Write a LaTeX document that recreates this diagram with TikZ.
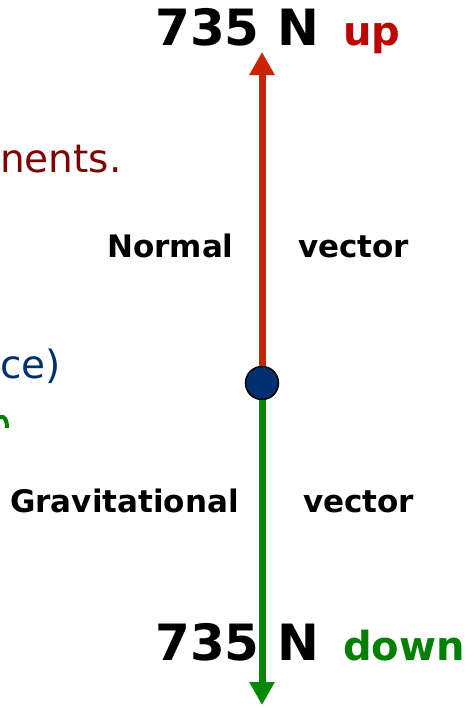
\documentclass[tikz,border=0pt]{standalone}
\usepackage{fontspec}
\setmainfont{DejaVu Sans}
\usetikzlibrary{arrows.meta}
\definecolor{arrred}{RGB}{204,34,0}
\definecolor{arrgreen}{RGB}{0,136,0}
\definecolor{upred}{RGB}{192,0,0}
\definecolor{downgreen}{RGB}{0,128,0}
\definecolor{dotblue}{RGB}{0,48,112}
\definecolor{darkred}{RGB}{128,0,0}
\tikzset{
  big/.style={font=\fontsize{50}{54}\selectfont\bfseries, inner sep=0pt},
  word/.style={font=\fontsize{40}{44}\selectfont\bfseries, inner sep=0pt},
  lbl/.style={font=\fontsize{31}{34}\selectfont\bfseries, inner sep=0pt},
  side/.style={font=\fontsize{39}{42}\selectfont, inner sep=0pt},
  vec/.style={line width=7pt, -{Triangle[width=24pt,length=23pt]}}
}
\begin{document}
\begin{tikzpicture}[x=1pt,y=-1pt]
\useasboundingbox (0,0) rectangle (471,707);
\coordinate (topend) at (262,52);
\coordinate (botend) at (262,705);
\node[circle, fill=dotblue, draw=black, line width=1.5pt, minimum size=33pt, inner sep=0pt] (dot) at (262,383) {};
\draw[vec, arrred] (dot.north) -- (topend);
\draw[vec, arrgreen] (dot.south) -- (botend);
\node[big, anchor=base west] (topn) at (155,45) {735 N};
\node[word, anchor=base west, text=upred] (up) at (343,45) {up};
\node[big, anchor=base west] (botn) at (155,660) {735 N};
\node[word, anchor=base west, text=downgreen] (down) at (343,660) {down};
\node[lbl, anchor=base west] (normal) at (107,257) {Normal};
\node[lbl, anchor=base west] (v1) at (298,257) {vector};
\node[lbl, anchor=base west] (grav) at (10,512) {Gravitational};
\node[lbl, anchor=base west] (v2) at (303,512) {vector};
\node[side, anchor=base west, text=darkred] (nents) at (0,172) {nents.};
\node[side, anchor=base west, text=dotblue] (ce) at (0,378) {ce)};
\draw[downgreen, line width=4pt] (0,417) .. controls (5,416) and (7,420) .. (7,428);
\end{tikzpicture}
\end{document}
